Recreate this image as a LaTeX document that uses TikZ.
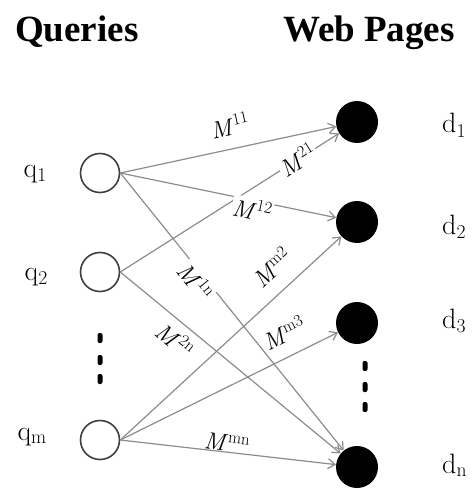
\documentclass[tikz,border=0pt]{standalone}
\usepackage{fontspec}
\newfontfamily\headfont{Liberation Serif}
\usetikzlibrary{arrows.meta}
\begin{document}
\begin{tikzpicture}[x=1pt,y=-1pt,
  query/.style={circle,draw=black!75,line width=1.6pt,fill=white,minimum size=39pt,inner sep=0pt},
  page/.style={circle,fill=black,minimum size=42pt,inner sep=0pt},
  link/.style={draw=black!45,line width=1.2pt,-{Straight Barb[length=7pt,width=10pt]}},
  wt/.style={font=\fontsize{24}{26}\selectfont,sloped,inner sep=1pt},
  onlink/.style={wt,fill=white},
  lbl/.style={font=\fontsize{28}{30}\selectfont,inner sep=0pt},
  head/.style={font=\headfont\bfseries\fontsize{37}{40}\selectfont,anchor=base west,inner sep=0pt},
  vdot/.style={rectangle,fill=black,rounded corners=2pt,minimum width=5pt,minimum height=10pt,inner sep=0pt}]
  \path[use as bounding box] (0,0) rectangle (474,489);

  % column headings
  \node[head] (hq) at (15,42) {Queries};
  \node[head] (hw) at (283,42) {Web Pages};

  % query nodes
  \node[query] (q1) at (100,173) {};
  \node[query] (q2) at (100,272) {};
  \node[query] (qm) at (100,440) {};

  % page nodes
  \node[page] (d1) at (357,122) {};
  \node[page] (d2) at (357,222) {};
  \node[page] (d3) at (357,323) {};
  \node[page] (dn) at (357,467) {};

  % names
  \node[lbl,anchor=base east] (lq1) at (47,177) {q\textsubscript{1}};
  \node[lbl,anchor=base east] (lq2) at (48,280) {q\textsubscript{2}};
  \node[lbl,anchor=base east] (lqm) at (47,440) {q\textsubscript{m}};
  \node[lbl,anchor=base west] (ld1) at (442,133) {d\textsubscript{1}};
  \node[lbl,anchor=base west] (ld2) at (442,234) {d\textsubscript{2}};
  \node[lbl,anchor=base west] (ld3) at (442,328) {d\textsubscript{3}};
  \node[lbl,anchor=base west] (ldn) at (442,473) {d\textsubscript{n}};

  % ellipsis marks
  \node[vdot] (lv1) at (100,338) {};
  \node[vdot] (lv2) at (100,360) {};
  \node[vdot] (lv3) at (100,379) {};
  \node[vdot] (rv1) at (365,366) {};
  \node[vdot] (rv2) at (365,387) {};
  \node[vdot] (rv3) at (365,407) {};

  % weighted links
  \draw[link] (q1.east) -- node[wt,above=12pt,pos=0.53] (w11) {\textit{M}\textsuperscript{11}} (d1);
  \draw[link] (q2.east) -- node[onlink,pos=0.81] (w21) {\textit{M}\textsuperscript{21}} (d1);
  \draw[link] (q1.east) -- node[onlink,below=-3pt,pos=0.62] (w12) {\textit{M}\textsuperscript{12}} (d2);
  \draw[link] (qm.east) -- node[wt,above=13pt,pos=0.76] (wm2) {\textit{M}\textsuperscript{m2}} (d2);
  \draw[link] (q1.east) -- node[onlink,below=-3pt,pos=0.37] (w1n) {\textit{M}\textsuperscript{1n}} (dn);
  \draw[link] (q2.east) -- node[wt,below=5pt,pos=0.3] (w2n) {\textit{M}\textsuperscript{2n}} (dn);
  \draw[link] (qm.east) -- node[wt,above=12pt,pos=0.8] (wm3) {\textit{M}\textsuperscript{m3}} (d3);
  \draw[link] (qm.east) -- node[wt,above=-1pt,pos=0.49] (wmn) {\textit{M}\textsuperscript{mn}} (dn);
\end{tikzpicture}
\end{document}
